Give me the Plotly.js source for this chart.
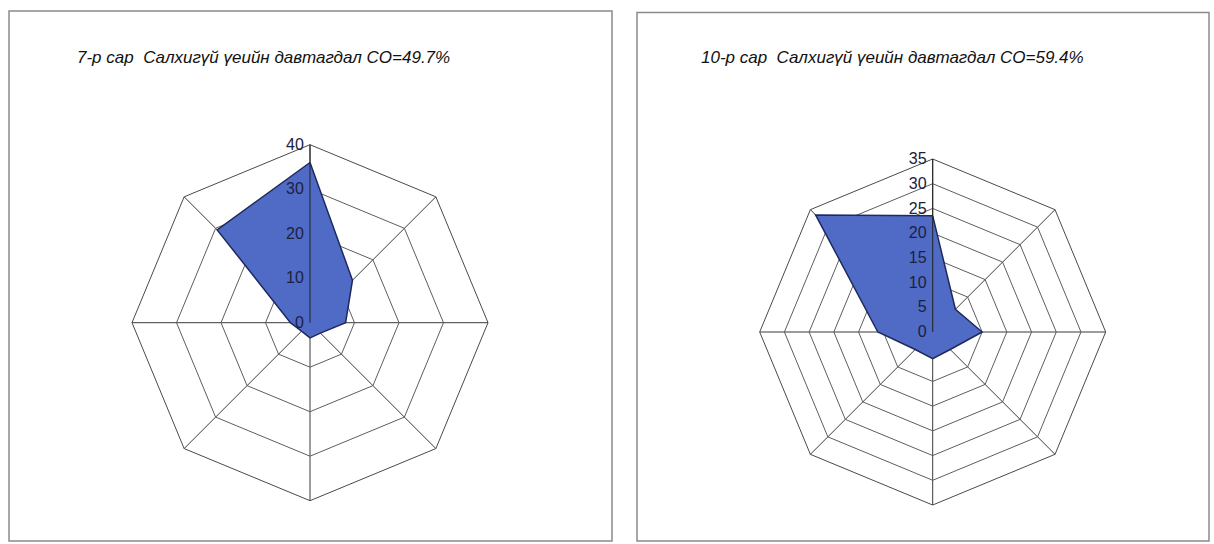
<!DOCTYPE html>
<html>
<head>
<meta charset="utf-8">
<script src="https://cdn.plot.ly/plotly-3.0.1.min.js"></script>
<style>html,body{margin:0;padding:0;background:#fff;}#chart{width:1214px;height:544px;}</style>
</head>
<body>
<div id="chart"></div>
<script>
// Wind directions (clockwise from North)
const directions = ['N', 'NE', 'E', 'SE', 'S', 'SW', 'W', 'NW'];
// Frequency of wind directions, %
const julyFreq = [36, 13.5, 8, 3.3, 3.4, 2.7, 4.4, 29.5];
const octFreq = [23.5, 6.5, 10, 5, 5.4, 5, 11.1, 33.5];
const titles = [
  '7-р сар  Салхигүй үеийн давтагдал CO=49.7%',
  '10-р сар  Салхигүй үеийн давтагдал CO=59.4%'
];
const radialMax = [40, 35];
const radialStep = [10, 5];

const FILL = '#4f6bc6';
const EDGE = '#1e2a5e';
const W = 1214, H = 544;

function closed(a) { return a.concat([a[0]]); }

function polyTrace(vals, sub) {
  return {
    type: 'scatterpolar', subplot: sub,
    r: closed(vals), theta: closed(directions),
    mode: 'lines', fill: 'toself', fillcolor: FILL,
    line: {color: EDGE, width: 1.5}, hoverinfo: 'skip', showlegend: false
  };
}
function dummy(sub) {
  return {type: 'scatterpolar', subplot: sub, r: [0], theta: [directions[0]],
    mode: 'markers', marker: {size: 1, opacity: 0}, hoverinfo: 'skip', showlegend: false};
}

function dom(cx, cy, rad) {
  return {x: [(cx - rad) / W, (cx + rad) / W], y: [(H - cy - rad) / H, (H - cy + rad) / H]};
}

function basePolar(d, max, step) {
  return {
    domain: d, bgcolor: 'rgba(0,0,0,0)', gridshape: 'linear',
    radialaxis: {range: [0, max], dtick: step, angle: 90, showticklabels: false, ticks: '',
      showline: false, gridcolor: '#5e5e5e', gridwidth: 1, layer: 'below traces'},
    angularaxis: {type: 'category', categoryarray: directions, rotation: 90, direction: 'clockwise',
      showticklabels: false, ticks: '', showline: true, linecolor: '#4a4a4a', linewidth: 1,
      gridcolor: '#3a3a3a', gridwidth: 1, layer: 'below traces'}
  };
}
function overPolar(d, max, step) {
  return {
    domain: d, bgcolor: 'rgba(0,0,0,0)', gridshape: 'linear',
    radialaxis: {range: [0, max], dtick: step, angle: 90, side: 'counterclockwise', tickangle: 90,
      showticklabels: true, ticks: '', showline: true, linecolor: '#222', linewidth: 1,
      showgrid: false, layer: 'above traces',
      tickfont: {family: 'Liberation Sans, Arial, sans-serif', size: 16, color: '#1c2140'}},
    angularaxis: {type: 'category', categoryarray: directions, rotation: 90, direction: 'clockwise',
      showticklabels: false, ticks: '', showline: false, showgrid: false}
  };
}

const d1 = dom(310, 322.7, 178);
const d2 = dom(932.7, 332, 173);

const data = [
  polyTrace(julyFreq, 'polar'),
  polyTrace(octFreq, 'polar2'),
  dummy('polar3'),
  dummy('polar4')
];

const titleFont = {family: 'Liberation Sans Narrow, Arial Narrow, Liberation Sans, sans-serif', size: 17, color: '#111', style: 'italic'};

const layout = {
  width: W, height: H, margin: {l: 0, r: 0, t: 0, b: 0},
  paper_bgcolor: '#fff', showlegend: false,
  polar: basePolar(d1, radialMax[0], radialStep[0]),
  polar2: basePolar(d2, radialMax[1], radialStep[1]),
  polar3: overPolar(d1, radialMax[0], radialStep[0]),
  polar4: overPolar(d2, radialMax[1], radialStep[1]),
  annotations: [
    {text: titles[0], xref: 'paper', yref: 'paper', x: 263 / W, y: 1 - 58 / H, xanchor: 'center', yanchor: 'middle', showarrow: false, font: titleFont},
    {text: titles[1], xref: 'paper', yref: 'paper', x: 892 / W, y: 1 - 58 / H, xanchor: 'center', yanchor: 'middle', showarrow: false, font: titleFont}
  ],
  shapes: [
    {type: 'rect', xref: 'paper', yref: 'paper', x0: 9 / W, x1: 612 / W, y0: 3 / H, y1: 1 - 11 / H, line: {color: '#8a8a8a', width: 1.5}},
    {type: 'rect', xref: 'paper', yref: 'paper', x0: 637 / W, x1: 1209 / W, y0: 3 / H, y1: 1 - 12.5 / H, line: {color: '#8a8a8a', width: 1.5}}
  ]
};

Plotly.newPlot('chart', data, layout, {displayModeBar: false, staticPlot: true});
</script>
</body>
</html>
